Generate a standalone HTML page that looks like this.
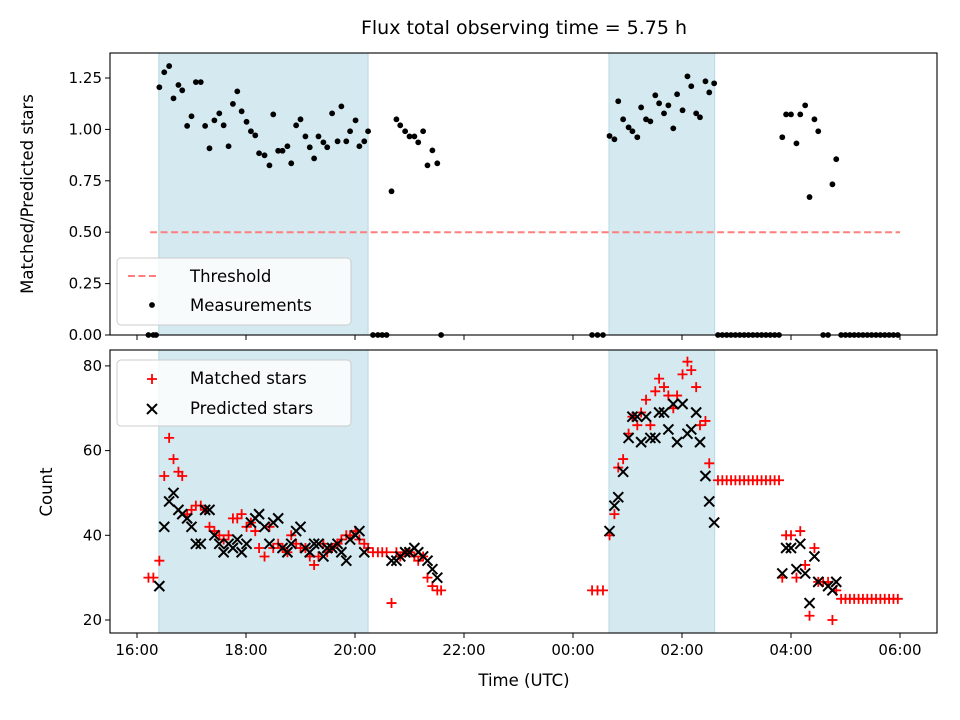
<!DOCTYPE html>
<html><head><meta charset="utf-8"><style>
body{margin:0;background:#fff;}
svg{display:block;font-family:"DejaVu Sans","Liberation Sans",sans-serif;}
</style></head><body>
<svg id="c" width="960" height="720" xmlns="http://www.w3.org/2000/svg"></svg>
<script>
// ---- data (hours since 16:00 UTC) ----
const xTickLabels=["16:00","18:00","20:00","22:00","00:00","02:00","04:00","06:00"];
const xTickHours=[0,2,4,6,8,10,12,14];
const topTickValues=[0,0.25,0.5,0.75,1.0,1.25];
const botTickValues=[20,40,60,80];
const shadeStart=[0.40,8.66];
const shadeEnd=[4.24,10.60];
const threshold=0.5, thrStart=0.24, thrEnd=14.0;
const measT=[0.21,0.30,0.35,0.41,0.50,0.59,0.67,0.76,0.83,0.92,1.00,1.08,1.17,1.25,1.33,1.42,1.51,1.59,1.68,1.76,1.84,1.92,2.01,2.09,2.17,2.24,2.34,2.43,2.50,2.59,2.67,2.76,2.83,2.92,3.00,3.09,3.17,3.25,3.33,3.42,3.49,3.58,3.68,3.75,3.84,3.91,4.01,4.08,4.17,4.24,4.33,4.42,4.50,4.58,4.67,4.76,4.83,4.92,5.00,5.09,5.16,5.25,5.33,5.42,5.51,5.58,
8.35,8.45,8.55,8.67,8.76,8.83,8.92,9.02,9.09,9.18,9.25,9.34,9.42,9.51,9.58,9.67,9.75,9.84,9.91,10.01,10.10,10.17,10.26,10.33,10.43,10.50,10.59,
10.66,10.74,10.82,10.90,10.98,11.06,11.14,11.22,11.30,11.38,11.46,11.54,11.62,11.70,11.78,
11.84,11.91,12.00,12.10,12.17,12.26,12.34,12.43,12.50,12.59,12.68,12.76,12.83,
12.92,13.00,13.08,13.16,13.24,13.32,13.40,13.48,13.56,13.64,13.72,13.80,13.88,13.96];
const measV=[0,0,0,1.205,1.278,1.308,1.151,1.216,1.19,1.017,1.064,1.23,1.23,1.017,0.908,1.044,1.078,1.02,0.918,1.124,1.185,1.088,1.037,0.991,0.971,0.884,0.874,0.825,1.073,0.896,0.896,0.918,0.835,1.02,1.049,0.966,0.913,0.859,0.966,0.937,0.913,1.078,0.942,1.112,0.942,0.991,1.044,0.918,0.942,0.991,0,0,0,0,0.699,1.049,1.02,0.991,0.966,0.966,0.937,0.991,0.825,0.898,0.835,0,
0,0,0,0.968,0.952,1.137,1.049,1.01,0.991,0.962,1.107,1.049,1.039,1.166,1.127,1.078,1.117,1.005,1.171,1.093,1.258,1.21,1.078,1.059,1.234,1.18,1.224,
0,0,0,0,0,0,0,0,0,0,0,0,0,0,0,
0.962,1.073,1.073,0.932,1.073,1.117,0.671,1.049,0.991,0,0,0.733,0.855,
0,0,0,0,0,0,0,0,0,0,0,0,0,0];
const matchT=[0.21,0.30,0.41,0.50,0.59,0.67,0.76,0.83,0.92,1.00,1.08,1.17,1.25,1.33,1.42,1.51,1.59,1.68,1.76,1.84,1.92,2.01,2.09,2.17,2.24,2.34,2.43,2.50,2.59,2.67,2.76,2.83,2.92,3.00,3.09,3.17,3.25,3.33,3.42,3.49,3.58,3.68,3.75,3.84,3.91,4.01,4.08,4.17,4.24,4.33,4.42,4.50,4.58,4.67,4.76,4.83,4.92,5.00,5.09,5.16,5.25,5.33,5.42,5.51,5.58,
8.35,8.45,8.55,8.67,8.76,8.83,8.92,9.02,9.09,9.18,9.25,9.34,9.42,9.51,9.58,9.67,9.75,9.84,9.91,10.01,10.10,10.17,10.26,10.33,10.43,10.50,
10.66,10.74,10.82,10.90,10.98,11.06,11.14,11.22,11.30,11.38,11.46,11.54,11.62,11.70,11.78,
11.84,11.91,12.00,12.10,12.17,12.26,12.34,12.43,12.50,12.59,12.68,12.76,12.83,
12.92,13.00,13.08,13.16,13.24,13.32,13.40,13.48,13.56,13.64,13.72,13.80,13.88,13.96];
const matchV=[30,30,34,54,63,58,55,54,45,46,47,47,46,42,41,40,39,40,44,44,45,42,43,41,37,35,42,37,38,37,36,40,38,37,37,35,33,35,38,36,37,38,39,40,40,41,39,38,37,36,36,36,36,24,36,35,36,36,35,34,35,30,28,27,27,
27,27,27,40,45,56,58,64,68,66,69,72,66,74,77,75,73,70,73,78,81,79,75,66,67,57,
53,53,53,53,53,53,53,53,53,53,53,53,53,53,53,
30,40,40,30,41,33,21,37,29,29,29,20,27,
25,25,25,25,25,25,25,25,25,25,25,25,25,25];
const predT=[0.41,0.50,0.59,0.67,0.76,0.83,0.92,1.00,1.08,1.17,1.25,1.33,1.42,1.51,1.59,1.68,1.76,1.84,1.92,2.01,2.09,2.17,2.24,2.34,2.43,2.50,2.59,2.67,2.76,2.83,2.92,3.00,3.09,3.17,3.25,3.33,3.42,3.49,3.58,3.68,3.75,3.84,3.91,4.01,4.08,4.17,4.67,4.76,4.83,4.92,5.00,5.09,5.16,5.25,5.33,5.42,5.51,
8.67,8.76,8.83,8.92,9.02,9.09,9.18,9.25,9.34,9.42,9.51,9.58,9.67,9.75,9.84,9.91,10.01,10.10,10.17,10.26,10.33,10.43,10.50,10.59,
11.84,11.91,12.00,12.10,12.17,12.26,12.34,12.43,12.50,12.68,12.76,12.83];
const predV=[28,42,48,50,46,45,44,42,38,38,46,46,40,38,36,38,37,39,36,38,43,44,45,42,38,43,44,37,36,38,41,42,37,36,38,38,35,37,37,38,36,34,39,40,41,36,34,34,35,36,36,37,36,35,34,32,30,
41,47,49,55,63,68,68,62,68,63,63,69,69,65,71,62,71,64,65,69,62,54,48,43,
31,37,37,32,38,31,24,35,29,28,27,29];

// ---- geometry ----
const X0=110,X1=937, T0=53,T1=335, B0=350,B1=633;
function x(h){return 137+h*54.5;}
function yTop(v){return 335-v*205.6;}
function yBot(c){return 620-(c-20)*4.235;}
const svg=document.getElementById('c');
const NS='http://www.w3.org/2000/svg';
function mk(tag,attrs,parent){const e=document.createElementNS(NS,tag);for(const k in attrs)e.setAttribute(k,attrs[k]);(parent||svg).appendChild(e);return e;}

function panel(name,y0,y1){
  const g=mk('g',{});
  
  
  shadeStart.forEach((s,i)=>{
    const r=mk('rect',{x:x(s),y:y0,width:x(shadeEnd[i])-x(s),height:y1-y0,fill:'#d4e9f0',stroke:'#b6dae5','stroke-width':1},g);
    
    
  });
  return g;
}
function frame(y0,y1){
  mk('rect',{x:X0,y:y0,width:X1-X0,height:y1-y0,fill:'none',stroke:'#000','stroke-width':1.1});
  xTickHours.forEach(h=>mk('line',{x1:x(h),x2:x(h),y1:y1,y2:y1+5,stroke:'#000','stroke-width':1}));
}

// top panel
const gt=panel('top-plot-area',T0,T1);
const thr=mk('line',{x1:x(thrStart),x2:x(thrEnd),y1:yTop(threshold),y2:yTop(threshold),stroke:'#ff7f7f','stroke-width':2,'stroke-dasharray':'7,3.5'},gt);


measT.forEach((t,i)=>{
  const c=mk('circle',{cx:x(t),cy:yTop(measV[i]),r:2.9,fill:'#000'},gt);
  
  
});
frame(T0,T1);
topTickValues.forEach(v=>{
  mk('line',{x1:X0-5,x2:X0,y1:yTop(v),y2:yTop(v),stroke:'#000'});
  const t=mk('text',{x:X0-8,y:yTop(v)+5,'text-anchor':'end','font-size':15});
  t.textContent=v.toFixed(2);
  
  
});

// bottom panel
const gb=panel('bottom-plot-area',B0,B1);
matchT.forEach((t,i)=>{
  const cx=x(t),cy=yBot(matchV[i]);
  const p=mk('path',{d:`M${cx-5} ${cy}H${cx+5}M${cx} ${cy-5}V${cy+5}`,stroke:'#ff0000','stroke-width':1.8,fill:'none'},gb);
  
  
});
predT.forEach((t,i)=>{
  const cx=x(t),cy=yBot(predV[i]);
  const p=mk('path',{d:`M${cx-5} ${cy-5}L${cx+5} ${cy+5}M${cx-5} ${cy+5}L${cx+5} ${cy-5}`,stroke:'#000','stroke-width':2,fill:'none'},gb);
  
  
});
frame(B0,B1);
botTickValues.forEach(v=>{
  mk('line',{x1:X0-5,x2:X0,y1:yBot(v),y2:yBot(v),stroke:'#000'});
  const t=mk('text',{x:X0-8,y:yBot(v)+5,'text-anchor':'end','font-size':15});
  t.textContent=v;
  
  
});
xTickHours.forEach((h,i)=>{
  const t=mk('text',{x:x(h),y:B1+22,'text-anchor':'middle','font-size':15});
  t.textContent=xTickLabels[i];
  
  
});
</script>
<svg width="960" height="720" style="position:absolute;left:0;top:0" font-family="DejaVu Sans, Liberation Sans, sans-serif">
  <text x="524" y="34" text-anchor="middle" font-size="19">Flux total observing time = 5.75 h</text>
  <text x="33" y="194" text-anchor="middle" font-size="16.5" transform="rotate(-90 33 194)">Matched/Predicted stars</text>
  <text x="52" y="492" text-anchor="middle" font-size="16.5" transform="rotate(-90 52 492)">Count</text>
  <text x="524" y="686" text-anchor="middle" font-size="16.5">Time (UTC)</text>
  <g>
    <rect x="117" y="258" width="234" height="67" rx="4" fill="#fff" fill-opacity="0.8" stroke="#ccc"/>
    <line x1="128" y1="276" x2="157" y2="276" stroke="#ff7f7f" stroke-width="2" stroke-dasharray="7,3.5"/>
    <text x="190" y="282" font-size="16.5">Threshold</text>
    <circle cx="152" cy="305" r="2.9" fill="#000"/>
    <text x="190" y="311" font-size="16.5">Measurements</text>
  </g>
  <g>
    <rect x="117" y="360" width="234" height="66" rx="4" fill="#fff" fill-opacity="0.8" stroke="#ccc"/>
    <path d="M147 379H157M152 374V384" stroke="#f00" stroke-width="1.8"/>
    <text x="190" y="384" font-size="16.5">Matched stars</text>
    <path d="M147 404L157 414M147 414L157 404" stroke="#000" stroke-width="2"/>
    <text x="190" y="414" font-size="16.5">Predicted stars</text>
  </g>
</svg>
</body></html>
